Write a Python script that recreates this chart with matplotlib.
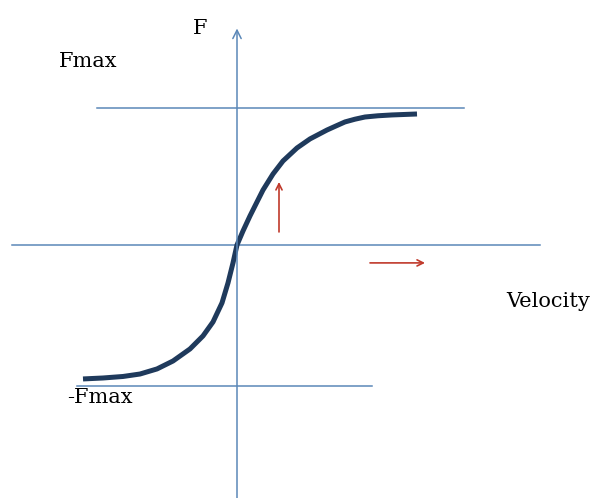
"""Force vs velocity saturation sketch (F limited to +/- Fmax)."""

import matplotlib.pyplot as plt

# velocity / force readings along the curve (arbitrary units, Fmax = 1)
velocity = [-1.54, -1.34, -1.14, -0.97, -0.80, -0.64, -0.47, -0.34, -0.24,
            -0.15, -0.09, -0.04, 0.00, 0.06, 0.13, 0.20, 0.26, 0.36, 0.46,
            0.60, 0.73, 0.90, 1.00, 1.08, 1.18, 1.28, 1.41, 1.55, 1.80]
force = [-0.978, -0.971, -0.960, -0.942, -0.905, -0.847, -0.759, -0.664,
         -0.562, -0.423, -0.277, -0.131, 0.000, 0.102, 0.212, 0.314, 0.401,
         0.518, 0.613, 0.708, 0.774, 0.839, 0.872, 0.898, 0.918, 0.934,
         0.943, 0.949, 0.956]

fmax_level = 1.0
fmin_level = -1.03
fmax_span = [-1.40, 2.27]
fmin_span = [-1.60, 1.35]
vel_axis_span = [-2.25, 3.03]
force_axis_span = [-1.85, 1.58]

# red direction hints
up_arrow = ([0.42, 0.42], [0.095, 0.46])
right_arrow = ([1.33, 1.88], [-0.131, -0.131])

axis_col = "#5b88b8"
curve_col = "#1f3a5c"
red = "#c0392b"

fig = plt.figure(figsize=(5.98, 4.98), dpi=100)
ax = fig.add_axes([0, 0, 1, 1])
ax.set_xlim(-2.37, 3.61)
ax.set_ylim(-1.847, 1.788)
ax.axis("off")

# axes
ax.plot(vel_axis_span, [0, 0], color=axis_col, lw=1.1)
ax.annotate("", xy=(0, force_axis_span[1]), xytext=(0, force_axis_span[0]),
            arrowprops=dict(arrowstyle="->", color=axis_col, lw=1.1,
                            shrinkA=0, shrinkB=0, mutation_scale=15))

# saturation limits
ax.plot(fmax_span, [fmax_level] * 2, color=axis_col, lw=1.1)
ax.plot(fmin_span, [fmin_level] * 2, color=axis_col, lw=1.1)

# curve
ax.plot(velocity, force, color=curve_col, lw=3.6, solid_capstyle="butt",
        solid_joinstyle="round")

for xs, ys in (up_arrow, right_arrow):
    ax.annotate("", xy=(xs[1], ys[1]), xytext=(xs[0], ys[0]),
                arrowprops=dict(arrowstyle="->", color=red, lw=1.2,
                                shrinkA=0, shrinkB=0, mutation_scale=11))

font = dict(family="DejaVu Serif", fontsize=15, color="black")
ax.text(-0.37, 1.58, "F", ha="center", va="center", **font)
ax.text(-1.49, 1.336, "Fmax", ha="center", va="center", **font)
ax.text(-1.37, -1.117, "-Fmax", ha="center", va="center", **font)
ax.text(3.11, -0.416, "Velocity", ha="center", va="center", **font)

fig.savefig("out.png", dpi=100)
